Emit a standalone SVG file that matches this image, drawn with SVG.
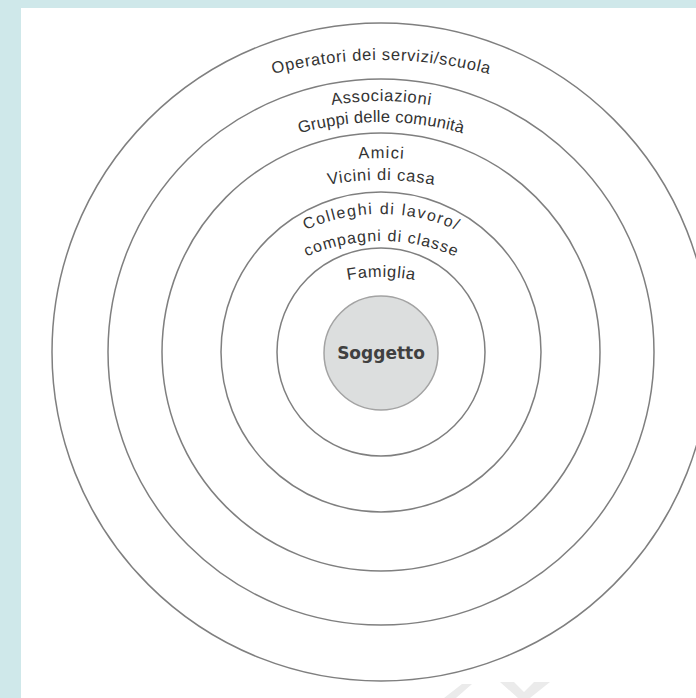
<svg xmlns="http://www.w3.org/2000/svg" xmlns:xlink="http://www.w3.org/1999/xlink" width="696" height="698" viewBox="0 0 696 698">
  <style>
    .ring { fill: none; stroke: #7f7f7f; stroke-width: 1.5; }
    .lbl { font-family: "Liberation Sans", Arial, sans-serif; font-size: 16.5px; fill: #333333; text-anchor: middle; }
    .sm { font-size: 16px; }
    .core { font-family: "DejaVu Sans", "Liberation Sans", sans-serif; font-weight: bold; font-size: 17px; fill: #404040; text-anchor: middle; }
  </style>
  <defs>
    <path id="p1" d="M217.5,93.1 A420,420 0 0 1 544.5,93.1"/>
    <path id="p2" d="M264.2,124.7 A300,300 0 0 1 497.8,124.7"/>
    <path id="p3" d="M264.2,145.7 A300,300 0 0 1 497.8,145.7"/>
    <path id="p4" d="M264.2,181.7 A300,300 0 0 1 497.8,181.7"/>
    <path id="p5" d="M264.2,203.7 A300,300 0 0 1 497.8,203.7"/>
    <path id="p6" d="M276.5,246.3 A185,185 0 0 1 485.5,246.3"/>
    <path id="p7" d="M276.5,273.3 A185,185 0 0 1 485.5,273.3"/>
    <path id="p8" d="M294.7,299 A180,180 0 0 1 467.3,299"/>
  </defs>

  <rect x="0" y="0" width="696" height="698" fill="#cfe8ea"/>
  <rect x="21" y="8" width="675" height="690" fill="#ffffff"/>

  <g id="watermark" fill="#ebebeb">
    <polygon points="444,698 462,684 472,684 456,698"/>
    <polygon points="500,682 514,682 524,692 534,682 550,682 530,698 518,698"/>
  </g>

  <g id="ring-operatori">
    <circle class="ring" cx="381" cy="352" r="329"/>
    <text class="lbl"><textPath xlink:href="#p1" href="#p1" startOffset="50%" textLength="218">Operatori dei servizi/scuola</textPath></text>
  </g>

  <g id="ring-associazioni">
    <circle class="ring" cx="381" cy="352" r="273"/>
    <text class="lbl"><textPath xlink:href="#p2" href="#p2" startOffset="50%" textLength="99">Associazioni</textPath></text>
    <text class="lbl"><textPath xlink:href="#p3" href="#p3" startOffset="50%" textLength="165">Gruppi delle comunità</textPath></text>
  </g>

  <g id="ring-amici">
    <circle class="ring" cx="381" cy="352" r="219"/>
    <text class="lbl"><textPath xlink:href="#p4" href="#p4" startOffset="50%" textLength="45">Amici</textPath></text>
    <text class="lbl"><textPath xlink:href="#p5" href="#p5" startOffset="50%" textLength="106">Vicini di casa</textPath></text>
  </g>

  <g id="ring-colleghi">
    <circle class="ring" cx="381" cy="352" r="160"/>
    <text class="lbl sm"><textPath xlink:href="#p6" href="#p6" startOffset="50%" textLength="155">Colleghi di lavoro/</textPath></text>
    <text class="lbl sm"><textPath xlink:href="#p7" href="#p7" startOffset="50%" textLength="153">compagni di classe</textPath></text>
  </g>

  <g id="ring-famiglia">
    <circle class="ring" cx="381" cy="352" r="104"/>
    <text class="lbl"><textPath xlink:href="#p8" href="#p8" startOffset="50%" textLength="67">Famiglia</textPath></text>
  </g>

  <g id="soggetto">
    <circle cx="381" cy="353" r="57" fill="#dcdede" stroke="#a3a3a3" stroke-width="1.5"/>
    <text class="core" x="381" y="359">Soggetto</text>
  </g>
</svg>
